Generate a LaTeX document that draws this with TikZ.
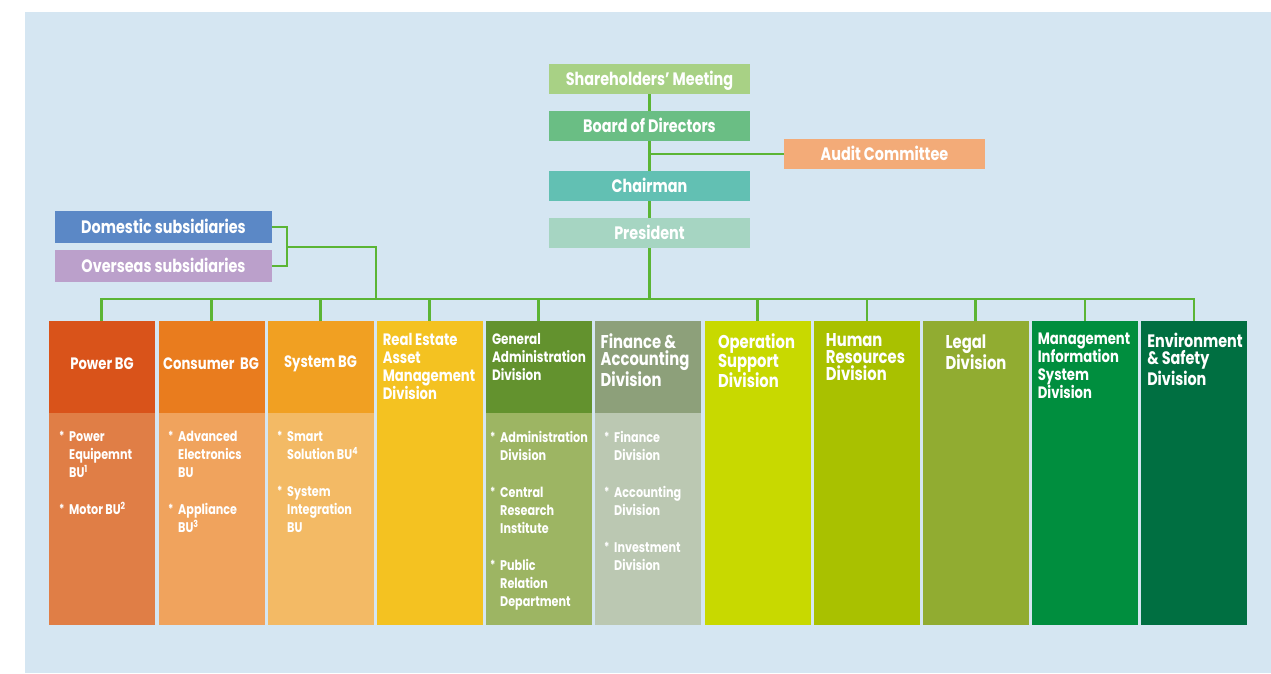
\documentclass[tikz,border=0pt]{standalone}
\usepackage{fontspec}
\setmainfont{Poppins}[FakeStretch=0.8]
\usepackage{tikz}

\definecolor{panel}{HTML}{D5E6F2}
\definecolor{linegreen}{HTML}{5BB535}
\definecolor{sharecol}{HTML}{A8D185}
\definecolor{boardcol}{HTML}{6ABE84}
\definecolor{auditcol}{HTML}{F3AB78}
\definecolor{chaircol}{HTML}{62C0B3}
\definecolor{prescol}{HTML}{A6D5C2}
\definecolor{domcol}{HTML}{5B88C6}
\definecolor{ovscol}{HTML}{BBA0CB}
\definecolor{powerhead}{HTML}{D9531A}
\definecolor{powerbody}{HTML}{E07E46}
\definecolor{consumerhead}{HTML}{E97C1E}
\definecolor{consumerbody}{HTML}{F0A35D}
\definecolor{systemhead}{HTML}{F1A022}
\definecolor{systembody}{HTML}{F3BA65}
\definecolor{realestatecol}{HTML}{F4C221}
\definecolor{genadminhead}{HTML}{63922E}
\definecolor{genadminbody}{HTML}{9DB563}
\definecolor{financehead}{HTML}{8DA07A}
\definecolor{financebody}{HTML}{BBC8B2}
\definecolor{operationcol}{HTML}{C8D900}
\definecolor{humancol}{HTML}{A9C100}
\definecolor{legalcol}{HTML}{91AC31}
\definecolor{miscol}{HTML}{008E3E}
\definecolor{envcol}{HTML}{006F41}

\newcommand\bitem{\makebox[10pt][l]{\raisebox{0.1ex}{\fontsize{12.5}{10}\selectfont*}}}% asterisk of a list entry
\newcommand\bcont{\hspace*{10pt}}% indent of a continued entry
\newcommand\bigtitle{\fontsize{18.5}{17.2}\selectfont}% wider column titles

\tikzset{
  box/.style={rectangle, inner sep=0pt, text=white, text height=14.5pt, text depth=2pt, font=\bfseries\fontsize{18}{20}\selectfont},
  topbox/.style={box, minimum width=201pt, minimum height=30pt},
  subbox/.style={box, minimum width=216.5pt, minimum height=31.5pt},
  headbox/.style={rectangle, inner sep=0pt, minimum width=106pt, minimum height=92pt},
  bodybox/.style={rectangle, inner sep=0pt, minimum width=106pt, minimum height=211.5pt},
  fullbox/.style={rectangle, inner sep=0pt, minimum width=106pt, minimum height=303.5pt},
  headtext/.style={inner sep=0pt, text=white, align=left, anchor=north, font=\bfseries\fontsize{15}{18}\selectfont},
  bgtext/.style={headtext, anchor=center, font=\bfseries\fontsize{16.5}{18}\selectfont},
  listtext/.style={inner sep=0pt, text=white, align=left, anchor=north west, font=\bfseries\fontsize{14}{18}\selectfont},
  link/.style={draw=linegreen, line width=2.6pt},
}

\begin{document}
\begin{tikzpicture}[x=1pt,y=-1pt]
	\useasboundingbox (0,0) rectangle (1271,673);
	\fill[panel] (25,12) rectangle (1271,673);	%background
	
	%top of the chart
	\node[topbox, fill=sharecol] (share) at (649.5,79) {Shareholders' Meeting};
	\node[topbox, fill=boardcol] (board) at (649.5,126) {Board of Directors};
	\node[topbox, fill=auditcol] (audit) at (884.5,154) {Audit Committee};
	\node[topbox, fill=chaircol] (chair) at (649.5,186) {Chairman};
	\node[topbox, fill=prescol] (pres) at (649.5,233) {President};
	
	%subsidiaries
	\node[subbox, fill=domcol] (dom) at (163.5,227) {Domestic subsidiaries};
	\node[subbox, fill=ovscol] (ovs) at (163.5,266) {Overseas subsidiaries};
	
	%business groups: head and body
	\node[headbox, fill=powerhead] (power) at (101.5,367) {};
	\node[bodybox, fill=powerbody] (powerlow) at (101.5,518.75) {};
	\node[headbox, fill=consumerhead] (consumer) at (211.5,367) {};
	\node[bodybox, fill=consumerbody] (consumerlow) at (211.5,518.75) {};
	\node[headbox, fill=systemhead] (system) at (320.5,367) {};
	\node[bodybox, fill=systembody] (systemlow) at (320.5,518.75) {};
	
	%divisions
	\node[fullbox, fill=realestatecol] (realestate) at (429.5,472.75) {};
	\node[headbox, fill=genadminhead] (genadmin) at (538.5,367) {};
	\node[bodybox, fill=genadminbody] (genadminlow) at (538.5,518.75) {};
	\node[headbox, fill=financehead] (finance) at (648,367) {};
	\node[bodybox, fill=financebody] (financelow) at (648,518.75) {};
	\node[fullbox, fill=operationcol] (operation) at (757.5,472.75) {};
	\node[fullbox, fill=humancol] (human) at (867,472.75) {};
	\node[fullbox, fill=legalcol] (legal) at (975.5,472.75) {};
	\node[fullbox, fill=miscol] (mis) at (1085,472.75) {};
	\node[fullbox, fill=envcol] (env) at (1194,472.75) {};
	
	%column titles
	\node[bgtext] (powertxt) at (102,364) {Power BG};
	\node[bgtext] (consumertxt) at (211,364) {Consumer\ \ BG};
	\node[bgtext] (systemtxt) at (320.5,364) {System BG};
	\node[headtext, font=\bfseries\fontsize{16.5}{18}\selectfont] (realestatetxt) at (429,333) {Real Estate\\Asset\\Management\\Division};
	\node[headtext] (genadmintxt) at (539,333) {General\\Administration\\Division};
	\node[headtext, font=\bfseries\bigtitle] (financetxt) at (645,333) {Finance \&\\Accounting\\Division};
	\node[headtext, font=\bfseries\bigtitle] (operationtxt) at (756.5,333) {Operation\\Support\\Division};
	\node[headtext, font=\bfseries\bigtitle] (humantxt) at (865.5,333) {Human\\Resources\\Division};
	\node[headtext, font=\bfseries\bigtitle] (legaltxt) at (976,335) {Legal\\Division};
	\node[headtext, font=\bfseries\fontsize{16.5}{18}\selectfont] (mistxt) at (1084,333) {Management\\Information\\System\\Division};
	\node[headtext, font=\bfseries\fontsize{18}{17.2}\selectfont] (envtxt) at (1195,333) {Environment\\\&\ Safety\\Division};
	
	%units under the heads
	\node[listtext] (powerlist) at (59,431) {\bitem Power\\\bcont Equipemnt\\\bcont BU\textsuperscript{1}\\[19pt]\bitem Motor BU\textsuperscript{2}};
	\node[listtext] (consumerlist) at (168,431) {\bitem Advanced\\\bcont Electronics\\\bcont BU\\[19pt]\bitem Appliance\\\bcont BU\textsuperscript{3}};
	\node[listtext] (systemlist) at (277,431) {\bitem Smart\\\bcont Solution BU\textsuperscript{4}\\[19pt]\bitem System\\\bcont Integration\\\bcont BU};
	\node[listtext] (genadminlist) at (490,431) {\bitem Administration\\\bcont Division\\[19pt]\bitem Central\\\bcont Research\\\bcont Institute\\[19pt]\bitem Public\\\bcont Relation\\\bcont Department};
	\node[listtext] (financelist) at (604,431) {\bitem Finance\\\bcont Division\\[19pt]\bitem Accounting\\\bcont Division\\[19pt]\bitem Investment\\\bcont Division};
	
	%lines
	\draw[link] (share) -- (board);
	\draw[link] (board) -- (chair);
	\draw[link] (audit.west) -- (audit.west -| board.south);
	\draw[link] (chair) -- (pres);
	\coordinate (bus) at (649.5,299);
	\draw[link] (pres) -- (bus);
	\draw[link] (power.north) |- (bus) -| (env.north);
	\draw[link] (consumer.north) -- (consumer.north |- bus);
	\draw[link] (system.north) -- (system.north |- bus);
	\draw[link] (realestate.north) -- (realestate.north |- bus);
	\draw[link] (genadmin.north) -- (genadmin.north |- bus);
	\draw[link] (operation.north) -- (operation.north |- bus);
	\draw[link] (human.north) -- (human.north |- bus);
	\draw[link] (legal.north) -- (legal.north |- bus);
	\draw[link] (mis.north) -- (mis.north |- bus);
	
	%subsidiaries bracket
	\coordinate (subfork) at (287,247);
	\coordinate (subdrop) at (376,299);
	\draw[link] (dom.east) -| (subfork) |- (ovs.east);
	\draw[link] (subfork) -| (subdrop);
\end{tikzpicture}
\end{document}
